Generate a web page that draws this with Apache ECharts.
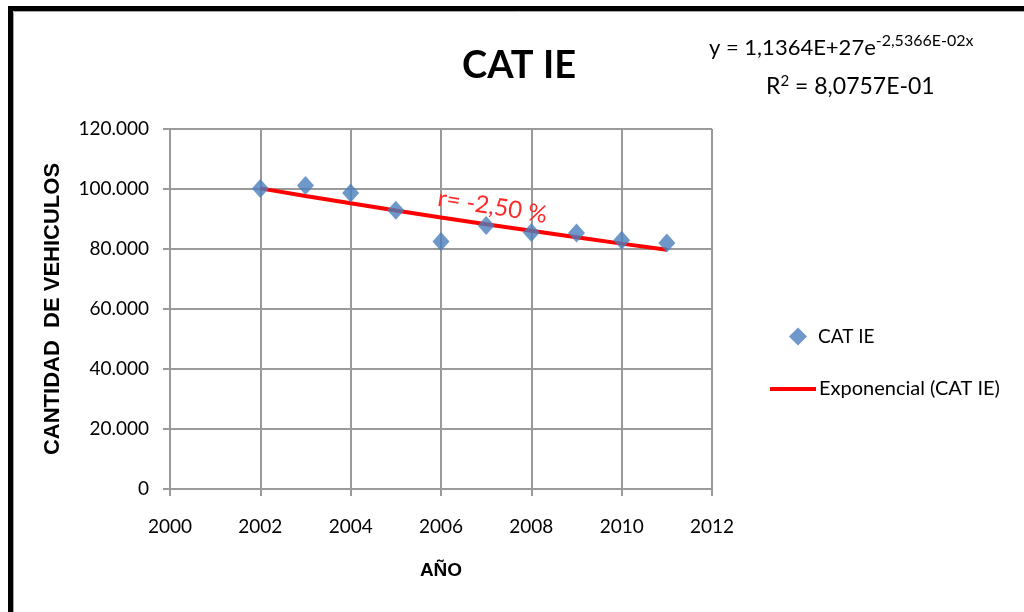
<!DOCTYPE html>
<html>
<head>
<meta charset="utf-8">
<script src="https://cdn.jsdelivr.net/npm/echarts@6/dist/echarts.min.js"></script>
<style>
  html, body { margin: 0; padding: 0; background: #fff; }
  #chart { width: 1024px; height: 612px; }
</style>
</head>
<body>
<div id="chart"></div>
<script>
// Vehicle counts per year (CAT IE)
const years = [2002, 2003, 2004, 2005, 2006, 2007, 2008, 2009, 2010, 2011];
const vehicles = [100200, 101200, 98700, 92900, 82500, 87800, 85500, 85300, 82900, 82000];

// Exponential trend y = A * e^(B x), coefficients as printed on the chart
const trendA = 1.1364e27;
const trendB = -2.5366e-2;
const trendYears = [2002, 2003, 2004, 2005, 2006, 2007, 2008, 2009, 2010, 2011];

// Axis ticks
const xTicks = [2000, 2002, 2004, 2006, 2008, 2010, 2012];
const yTicks = [0, 20000, 40000, 60000, 80000, 100000, 120000];

const mainFont = 'Lato';
const points = years.map((y, i) => [y, vehicles[i]]);
const trend = trendYears.map(y => [y, trendA * Math.exp(trendB * y)]);

function fmtThousands(v) {
  return String(Math.round(v)).replace(/\B(?=(\d{3})+(?!\d))/g, '.');
}

const chart = echarts.init(document.getElementById('chart'), null, { renderer: 'canvas' });

chart.setOption({
  animation: false,
  backgroundColor: '#ffffff',
  grid: { left: 170, right: 312, top: 129, bottom: 123 },
  xAxis: {
    type: 'value',
    min: xTicks[0],
    max: xTicks[xTicks.length - 1],
    interval: 2,
    name: 'AÑO',
    nameLocation: 'middle',
    nameGap: 72,
    nameTextStyle: { fontFamily: 'Liberation Sans', fontWeight: 'bold', fontSize: 19, color: '#000' },
    axisLine: { show: true, lineStyle: { color: '#9a9a9a', width: 2 } },
    axisTick: { show: true, length: 7, inside: false, lineStyle: { color: '#9a9a9a', width: 2 } },
    axisLabel: { fontFamily: mainFont, fontSize: 19, color: '#000', margin: 28, formatter: v => String(v) },
    splitLine: { show: true, lineStyle: { color: '#9a9a9a', width: 2 } }
  },
  yAxis: {
    type: 'value',
    min: yTicks[0],
    max: yTicks[yTicks.length - 1],
    interval: 20000,
    name: 'CANTIDAD  DE VEHICULOS',
    nameLocation: 'middle',
    nameGap: 106,
    nameTextStyle: { fontFamily: 'Liberation Sans', fontWeight: 'bold', fontSize: 22, color: '#000' },
    axisLine: { show: true, lineStyle: { color: '#9a9a9a', width: 2 } },
    axisTick: { show: true, length: 7, inside: false, lineStyle: { color: '#9a9a9a', width: 2 } },
    axisLabel: { fontFamily: mainFont, fontSize: 19, color: '#000', margin: 21, formatter: fmtThousands },
    splitLine: { show: true, lineStyle: { color: '#9a9a9a', width: 2 } }
  },
  legend: [
    {
      data: [{ name: 'CAT IE', icon: 'diamond' }],
      left: 784, top: 322,
      itemWidth: 18, itemHeight: 18, itemGap: 10,
      textStyle: { fontFamily: mainFont, fontSize: 19, color: '#000', padding: [0, 0, 0, 6] }
    },
    {
      data: [{ name: 'Exponencial (CAT IE)', icon: 'rect' }],
      left: 765, top: 374,
      itemWidth: 46, itemHeight: 4, itemGap: 4,
      textStyle: { fontFamily: mainFont, fontSize: 20, color: '#000', padding: [0, 0, 0, -2] }
    }
  ],
  series: [
    {
      name: 'Exponencial (CAT IE)',
      type: 'line',
      data: trend,
      showSymbol: false,
      symbol: 'none',
      lineStyle: { color: '#ff0000', width: 4 },
      itemStyle: { color: '#ff0000' },
      z: 3
    },
    {
      name: 'CAT IE',
      type: 'scatter',
      data: points,
      symbol: 'diamond',
      symbolSize: [17, 19],
      itemStyle: { color: '#4a7ebb' },
      z: 4
    }
  ],
  graphic: [
    // outer frame
    { type: 'rect', shape: { x: 10.5, y: 8.5, width: 1200, height: 800 }, style: { fill: 'none', stroke: '#000', lineWidth: 5 }, silent: true, z: 10 },
    { type: 'rect', shape: { x: 13.5, y: 11.5, width: 1200, height: 800 }, style: { fill: 'none', stroke: '#a8a8a8', lineWidth: 1 }, silent: true, z: 10 },
    // title
    { type: 'text', x: 519, y: 66, style: { text: 'CAT IE', font: 'bold 38px Lato', fill: '#000', textAlign: 'center', textVerticalAlign: 'middle' }, z: 10 },
    // trend equation
    {
      type: 'text', x: 709, y: 48,
      style: {
        text: '{m|y = 1,1364E+27e}{s|-2,5366E-02x}',
        textVerticalAlign: 'middle',
        rich: {
          m: { fontFamily: mainFont, fontSize: 22, color: '#000' },
          s: { fontFamily: mainFont, fontSize: 16, color: '#000', padding: [0, 0, 14, 0] }
        }
      }, z: 10
    },
    {
      type: 'text', x: 766, y: 87,
      style: {
        text: '{m|R}{s|2}{m| = 8,0757E-01}',
        textVerticalAlign: 'middle',
        rich: {
          m: { fontFamily: mainFont, fontSize: 23, color: '#000' },
          s: { fontFamily: mainFont, fontSize: 15, color: '#000', padding: [0, 0, 12, 0] }
        }
      }, z: 10
    },
    // growth rate annotation along the trend
    { type: 'text', x: 438, y: 198, rotation: -0.157, style: { text: 'r= -2,50 %', font: '24px Lato', fill: '#ff2a2a', textAlign: 'left', textVerticalAlign: 'middle' }, z: 10 }
  ]
});
</script>
</body>
</html>
